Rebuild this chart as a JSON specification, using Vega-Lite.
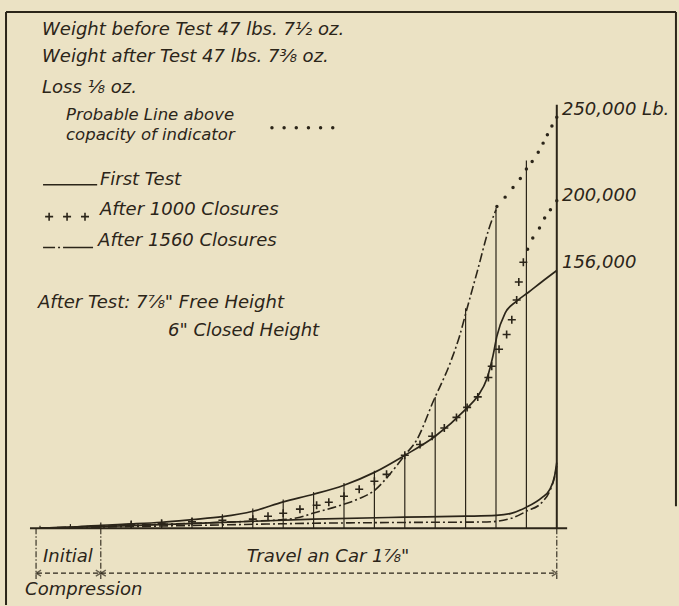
{
  "$schema": "https://vega.github.io/schema/vega-lite/v6.json",
  "width": 679,
  "height": 606,
  "autosize": {"type": "fit", "contains": "padding"},
  "padding": 0,
  "background": "#ebe2c4",
  "config": {"view": {"stroke": null}},
  "datasets": {
    "heavy": [
      {"k": -1.118, "L": 314.5, "k2": 20.92, "L2": 314.5},
      {"k": -1.118, "L": 314.5, "k2": -1.118, "L2": -46.8},
      {"k": 20.92, "L": 314.5, "k2": 20.92, "L2": 13.4},
      {"k": -0.33, "L": 0, "k2": 17.34, "L2": 0}
    ],
    "verticals": [
      {"k": 0, "L": 0, "k2": 0, "L2": 1.5},
      {"k": 1, "L": 0, "k2": 1, "L2": 2.5},
      {"k": 2, "L": 0, "k2": 2, "L2": 3.5},
      {"k": 3, "L": 0, "k2": 3, "L2": 4.2},
      {"k": 4, "L": 0, "k2": 4, "L2": 5},
      {"k": 5, "L": 0, "k2": 5, "L2": 6.5},
      {"k": 6, "L": 0, "k2": 6, "L2": 8.5},
      {"k": 7, "L": 0, "k2": 7, "L2": 12},
      {"k": 8, "L": 0, "k2": 8, "L2": 17.5},
      {"k": 9, "L": 0, "k2": 9, "L2": 22},
      {"k": 10, "L": 0, "k2": 10, "L2": 27.5},
      {"k": 11, "L": 0, "k2": 11, "L2": 35},
      {"k": 12, "L": 0, "k2": 12, "L2": 45.5},
      {"k": 13, "L": 0, "k2": 13, "L2": 80},
      {"k": 14, "L": 0, "k2": 14, "L2": 134},
      {"k": 15, "L": 0, "k2": 15, "L2": 195},
      {"k": 16, "L": 0, "k2": 16, "L2": 224},
      {"k": 17, "L": 0, "k2": 17, "L2": 258}
    ],
    "below": [
      {"k": -0.13, "L": 0, "k2": -0.13, "L2": -31},
      {"k": 2, "L": 0, "k2": 2, "L2": -31},
      {"k": 17, "L": 0, "k2": 17, "L2": -31}
    ],
    "arrowline": [
      {"k": -0.1, "L": -27.4, "k2": 16.97, "L2": -27.4}
    ],
    "arrowsRight": [
      {"k": 2, "L": -27.4},
      {"k": 17, "L": -27.4}
    ],
    "arrowsLeft": [
      {"k": -0.13, "L": -27.4},
      {"k": 2, "L": -27.4}
    ],
    "legSolid": [
      {"k": 0.1, "L": 209.2, "k2": 1.88, "L2": 209.2}
    ],
    "legDash": [
      {"k": 0.1, "L": 171, "k2": 1.75, "L2": 171}
    ],
    "first": [
      {"part": "load", "k": 0, "L": 0},
      {"part": "load", "k": 1, "L": 0.6},
      {"part": "load", "k": 2, "L": 1.8},
      {"part": "load", "k": 3, "L": 2.6},
      {"part": "load", "k": 4, "L": 3.6},
      {"part": "load", "k": 5, "L": 5.2},
      {"part": "load", "k": 6, "L": 7},
      {"part": "load", "k": 7, "L": 10.3},
      {"part": "load", "k": 8, "L": 16},
      {"part": "load", "k": 9, "L": 20.7},
      {"part": "load", "k": 10, "L": 26.2},
      {"part": "load", "k": 11, "L": 34},
      {"part": "load", "k": 12, "L": 44.4},
      {"part": "load", "k": 13, "L": 56},
      {"part": "load", "k": 14, "L": 72.4},
      {"part": "load", "k": 14.4, "L": 80.5},
      {"part": "load", "k": 14.7, "L": 91},
      {"part": "load", "k": 14.9, "L": 105},
      {"part": "load", "k": 15.03, "L": 117},
      {"part": "load", "k": 15.3, "L": 131},
      {"part": "load", "k": 15.66, "L": 138},
      {"part": "load", "k": 16.06, "L": 143.6},
      {"part": "load", "k": 16.5, "L": 150},
      {"part": "load", "k": 17, "L": 157},
      {"part": "unload", "k": 0, "L": 0},
      {"part": "unload", "k": 3, "L": 1.5},
      {"part": "unload", "k": 6, "L": 3.5},
      {"part": "unload", "k": 9, "L": 5.5},
      {"part": "unload", "k": 12, "L": 6.7},
      {"part": "unload", "k": 14, "L": 7.3},
      {"part": "unload", "k": 15, "L": 7.8},
      {"part": "unload", "k": 15.5, "L": 9},
      {"part": "unload", "k": 16, "L": 12.8},
      {"part": "unload", "k": 16.5, "L": 18.5},
      {"part": "unload", "k": 16.75, "L": 23},
      {"part": "unload", "k": 16.93, "L": 32},
      {"part": "unload", "k": 17, "L": 40}
    ],
    "c1560": [
      {"part": "load", "k": 0, "L": 0},
      {"part": "load", "k": 2, "L": 1.2},
      {"part": "load", "k": 4, "L": 2.4},
      {"part": "load", "k": 6, "L": 3.6},
      {"part": "load", "k": 7, "L": 4.3},
      {"part": "load", "k": 8, "L": 5.2},
      {"part": "load", "k": 8.55, "L": 6.7},
      {"part": "load", "k": 9, "L": 9.2},
      {"part": "load", "k": 10, "L": 14.6},
      {"part": "load", "k": 10.5, "L": 18},
      {"part": "load", "k": 11, "L": 23},
      {"part": "load", "k": 11.4, "L": 30.5},
      {"part": "load", "k": 11.75, "L": 38.5},
      {"part": "load", "k": 12, "L": 44.4},
      {"part": "load", "k": 12.4, "L": 54},
      {"part": "load", "k": 12.93, "L": 77},
      {"part": "load", "k": 13.5, "L": 101},
      {"part": "load", "k": 13.8, "L": 117},
      {"part": "load", "k": 14.05, "L": 134},
      {"part": "load", "k": 14.4, "L": 157.5},
      {"part": "load", "k": 14.76, "L": 182},
      {"part": "load", "k": 15, "L": 194},
      {"part": "unload", "k": 0, "L": 0},
      {"part": "unload", "k": 6, "L": 2},
      {"part": "unload", "k": 9, "L": 3},
      {"part": "unload", "k": 12, "L": 3.5},
      {"part": "unload", "k": 14.7, "L": 3.8},
      {"part": "unload", "k": 15.5, "L": 6},
      {"part": "unload", "k": 16, "L": 10.3},
      {"part": "unload", "k": 16.5, "L": 15.5},
      {"part": "unload", "k": 16.8, "L": 24},
      {"part": "unload", "k": 16.95, "L": 33},
      {"part": "unload", "k": 17, "L": 38}
    ],
    "pluses": [
      {"k": 3, "L": 2.2},
      {"k": 4, "L": 3},
      {"k": 5, "L": 3.9},
      {"k": 6, "L": 4.8},
      {"k": 7, "L": 5.5},
      {"k": 7.5, "L": 7.3},
      {"k": 8, "L": 9.1},
      {"k": 8.55, "L": 11.6},
      {"k": 9.1, "L": 14},
      {"k": 9.5, "L": 15.8},
      {"k": 10, "L": 19.5},
      {"k": 10.5, "L": 23.7},
      {"k": 11, "L": 28.6},
      {"k": 11.4, "L": 32.8},
      {"k": 12, "L": 44.4},
      {"k": 12.5, "L": 51},
      {"k": 12.9, "L": 56},
      {"k": 13.3, "L": 61},
      {"k": 13.7, "L": 67.5},
      {"k": 14.05, "L": 73.6},
      {"k": 14.4, "L": 80},
      {"k": 14.75, "L": 91.8},
      {"k": 14.86, "L": 98.7},
      {"k": 15.1, "L": 109},
      {"k": 15.35, "L": 118},
      {"k": 15.52, "L": 127},
      {"k": 15.68, "L": 139},
      {"k": 15.75, "L": 150},
      {"k": 15.9, "L": 162},
      {"k": 0.3, "L": 189.8},
      {"k": 0.89, "L": 189.8},
      {"k": 1.48, "L": 189.8}
    ],
    "dots": [
      {"k": 15.03, "L": 196},
      {"k": 15.3, "L": 201.7},
      {"k": 15.56, "L": 207.6},
      {"k": 15.8, "L": 213},
      {"k": 16, "L": 218.8},
      {"k": 16.19, "L": 223.4},
      {"k": 16.39, "L": 229},
      {"k": 16.55, "L": 234.6},
      {"k": 16.69, "L": 239.7},
      {"k": 16.84, "L": 245},
      {"k": 17, "L": 250.4},
      {"k": 16.04, "L": 170},
      {"k": 16.21, "L": 176.8},
      {"k": 16.43, "L": 182.9},
      {"k": 16.6, "L": 189},
      {"k": 16.79, "L": 194},
      {"k": 17, "L": 199.5},
      {"k": 7.63, "L": 244},
      {"k": 8.03, "L": 244},
      {"k": 8.43, "L": 244},
      {"k": 8.83, "L": 244},
      {"k": 9.23, "L": 244},
      {"k": 9.63, "L": 244}
    ],
    "labels": [
      {"k": 0.066, "L": 303.5, "t": "Weight before Test 47 lbs. 7½ oz."},
      {"k": 0.066, "L": 287.1, "t": "Weight after Test 47 lbs. 7⅜ oz."},
      {"k": 0.066, "L": 268.2, "t": "Loss ⅛ oz."},
      {"k": 1.97, "L": 212.3, "t": "First Test"},
      {"k": 1.97, "L": 194, "t": "After 1000 Closures"},
      {"k": 1.91, "L": 175.2, "t": "After 1560 Closures"},
      {"k": -0.066, "L": 137.5, "t": "After Test: 7⅞\" Free Height"},
      {"k": 4.21, "L": 120.4, "t": "6\" Closed Height"},
      {"k": 17.17, "L": 254.9, "t": "250,000 Lb."},
      {"k": 17.17, "L": 202.6, "t": "200,000"},
      {"k": 17.17, "L": 161.8, "t": "156,000"},
      {"k": 0.1, "L": -17.6, "t": "Initial"},
      {"k": -0.49, "L": -37.7, "t": "Compression"},
      {"k": 6.8, "L": -17.6, "t": "Travel an Car 1⅞\""}
    ],
    "smallLabels": [
      {"k": 0.855, "L": 251.5, "t": "Probable Line above"},
      {"k": 0.855, "L": 239.4, "t": "copacity of indicator"}
    ]
  },
  "encoding": {
    "x": {"field": "k", "type": "quantitative", "scale": {"domain": [-1.316, 21.02], "nice": false, "zero": false}, "axis": null},
    "y": {"field": "L", "type": "quantitative", "scale": {"domain": [-46.8, 321.8], "nice": false, "zero": false}, "axis": null}
  },
  "layer": [
    {
      "data": {"name": "heavy"},
      "mark": {"type": "rule", "color": "#2b2519", "strokeWidth": 2},
      "encoding": {"x2": {"field": "k2"}, "y2": {"field": "L2"}}
    },
    {
      "data": {"name": "verticals"},
      "mark": {"type": "rule", "color": "#2b2519"},
      "encoding": {
        "x2": {"field": "k2"}, "y2": {"field": "L2"},
        "strokeWidth": {"condition": {"test": "datum.k == 17", "value": 2}, "value": 1.2}
      }
    },
    {
      "data": {"name": "below"},
      "mark": {"type": "rule", "color": "#2b2519", "strokeWidth": 1.1, "strokeDash": [6, 2, 1.5, 2]},
      "encoding": {"x2": {"field": "k2"}, "y2": {"field": "L2"}}
    },
    {
      "data": {"name": "arrowline"},
      "mark": {"type": "rule", "color": "#2b2519", "strokeWidth": 1.1, "strokeDash": [5, 3]},
      "encoding": {"x2": {"field": "k2"}, "y2": {"field": "L2"}}
    },
    {
      "data": {"name": "arrowsRight"},
      "mark": {"type": "point", "shape": "M -1 -0.6 L 0 0 L -1 0.6", "filled": false, "stroke": "#2b2519", "strokeWidth": 1.3, "size": 100}
    },
    {
      "data": {"name": "arrowsLeft"},
      "mark": {"type": "point", "shape": "M 1 -0.6 L 0 0 L 1 0.6", "filled": false, "stroke": "#2b2519", "strokeWidth": 1.3, "size": 100}
    },
    {
      "data": {"name": "legSolid"},
      "mark": {"type": "rule", "color": "#2b2519", "strokeWidth": 1.6},
      "encoding": {"x2": {"field": "k2"}, "y2": {"field": "L2"}}
    },
    {
      "data": {"name": "legDash"},
      "mark": {"type": "rule", "color": "#2b2519", "strokeWidth": 1.6, "strokeDash": [12, 3, 2, 3, 30, 20]},
      "encoding": {"x2": {"field": "k2"}, "y2": {"field": "L2"}}
    },
    {
      "data": {"name": "first"},
      "mark": {"type": "line", "color": "#2b2519", "strokeWidth": 1.7, "interpolate": "monotone"},
      "encoding": {"detail": {"field": "part"}}
    },
    {
      "data": {"name": "c1560"},
      "mark": {"type": "line", "color": "#2b2519", "strokeWidth": 1.6, "interpolate": "monotone", "strokeDash": [9, 3, 2, 3]},
      "encoding": {"detail": {"field": "part"}}
    },
    {
      "data": {"name": "pluses"},
      "mark": {"type": "point", "shape": "M -1 0 L 1 0 M 0 -1 L 0 1", "filled": false, "stroke": "#2b2519", "strokeWidth": 1.6, "size": 64, "opacity": 1}
    },
    {
      "data": {"name": "dots"},
      "mark": {"type": "point", "shape": "circle", "filled": true, "color": "#2b2519", "size": 12, "opacity": 1}
    },
    {
      "data": {"name": "labels"},
      "mark": {"type": "text", "align": "left", "baseline": "middle", "font": "DejaVu Sans", "fontStyle": "italic", "fontSize": 18, "color": "#2b2519"},
      "encoding": {"text": {"field": "t"}}
    },
    {
      "data": {"name": "smallLabels"},
      "mark": {"type": "text", "align": "left", "baseline": "middle", "font": "DejaVu Sans", "fontStyle": "italic", "fontSize": 16.5, "color": "#2b2519"},
      "encoding": {"text": {"field": "t"}}
    }
  ]
}
